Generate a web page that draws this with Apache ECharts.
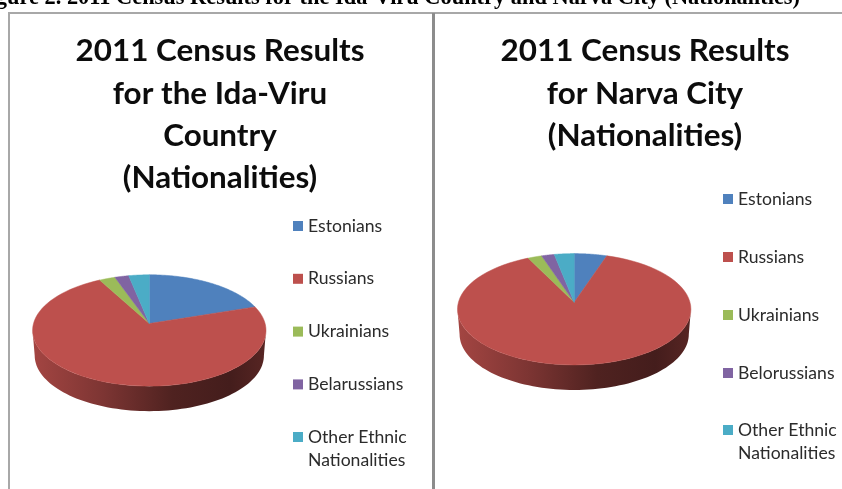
<!DOCTYPE html>
<html><head><meta charset="utf-8">
<style>html,body{margin:0;padding:0;background:#fff;overflow:hidden}#c{width:842px;height:489px}</style>
<script src="https://cdn.jsdelivr.net/npm/echarts@6/dist/echarts.min.js"></script>
</head><body><div id="c"></div>
<script>
const caption = 'Figure 2. 2011 Census Results for the Ida-Viru Country and Narva City (Nationalities)';
const leftTitle = '2011 Census Results\nfor the Ida-Viru\nCountry\n(Nationalities)';
const rightTitle = '2011 Census Results\nfor Narva City\n(Nationalities)';
const leftCategories = ['Estonians','Russians','Ukrainians','Belarussians','Other Ethnic Nationalities'];
const rightCategories = ['Estonians','Russians','Ukrainians','Belorussians','Other Ethnic Nationalities'];
const idaViruValues = [19.9,72.2,2.5,2.2,3.2];
const narvaValues = [5.1,87.6,2.2,2.0,3.1];
const colors = ['#4f81bd','#bd504d','#9bbb59','#8064a2','#4bacc6'];

const PERSP = 0.125, RX = 115.8, RY = 54.8, DEPTH = 25;
function rim(g, deg){
  const t = deg*Math.PI/180, x = Math.sin(t), y = -Math.cos(t), w = 1 - PERSP*y;
  return [g.cx + RX*x/w, g.cy + RY*y/w];
}
function shade(hex, k){
  const n = parseInt(hex.slice(1),16);
  return 'rgb('+[(n>>16)&255,(n>>8)&255,n&255].map(v=>Math.round(v*k)).join(',')+')';
}
function makeRender(g){
  return function(params, api){
    const s = api.value(0)*3.6, e = (api.value(0)+api.value(1))*3.6, color = api.visual('color');
    const pts = [[g.cx,g.cy]];
    for(let i=0;i<=80;i++) pts.push(rim(g, s+(e-s)*i/80));
    const children = [];
    const front = Math.acos(-PERSP)*180/Math.PI;
    const a = Math.max(s,front), b = Math.min(e,360-front);
    if(b>a){
      const top=[],bot=[];
      for(let i=0;i<=80;i++){
        const p = rim(g,a+(b-a)*i/80);
        top.push(p);
        bot.unshift([g.cx+(p[0]-g.cx)*0.982, p[1]+DEPTH]);
      }
      children.push({type:'polygon',shape:{points:top.concat(bot)},style:{
        fill:new echarts.graphic.LinearGradient(g.cx-RX,0,g.cx+RX,0,[
          {offset:0,color:shade(color,0.86)},
          {offset:0.3,color:shade(color,0.66)},
          {offset:0.6,color:shade(color,0.42)},
          {offset:0.85,color:shade(color,0.36)},
          {offset:1,color:shade(color,0.46)}],true)}});
    }
    children.push({type:'polygon',shape:{points:pts},style:{fill:color,stroke:color,lineWidth:0.5}});
    return {type:'group',children};
  };
}
function pieSeries(names, values, g){
  const total = values.reduce((a,b)=>a+b,0);
  let acc = 0;
  return names.map((name,i)=>{
    const start = acc/total*100, pct = values[i]/total*100; acc += values[i];
    return {type:'custom',name,coordinateSystem:'none',silent:true,
      itemStyle:{color:colors[i]},renderItem:makeRender(g),data:[[start,pct]],z:2};
  });
}
function legend(names,left,top,gap){
  return {orient:'vertical',left,top,itemGap:gap,itemWidth:10,itemHeight:10,icon:'rect',selectedMode:false,
    padding:0,
    textStyle:{fontFamily:'Lato',fontSize:17.6,color:'#2b2b2b',lineHeight:23},
    formatter:n=>n.startsWith('Other')?'\n'+n.replace(' Nationalities','\nNationalities'):n,
    data:names};
}
const chart = echarts.init(document.getElementById('c'));
chart.setOption({
  animation:false,
  backgroundColor:'#fff',
  title:[
    {text:leftTitle,left:220,textAlign:'center',top:30,padding:0,textStyle:{fontFamily:'Lato',fontWeight:700,fontSize:31.4,lineHeight:42.3,color:'#0c0c0c'}},
    {text:rightTitle,left:645,textAlign:'center',top:30,padding:0,textStyle:{fontFamily:'Lato',fontWeight:700,fontSize:31.4,lineHeight:42.3,color:'#0c0c0c'}}
  ],
  legend:[legend(leftCategories.slice(0,4),293,214.5,29.8),legend(leftCategories.slice(4),293,402.5,0),
          legend(rightCategories.slice(0,4),723,187.5,35),legend(rightCategories.slice(4),723,395.5,0)],
  series:[...pieSeries(leftCategories,idaViruValues,{cx:149.3,cy:323.5}),
          ...pieSeries(rightCategories,narvaValues,{cx:574.2,cy:302.3})],
  graphic:[
    {type:'rect',shape:{x:8,y:12,width:2,height:477},style:{fill:'#a8a8a8'},silent:true},
    {type:'rect',shape:{x:8,y:12,width:834,height:2},style:{fill:'#a8a8a8'},silent:true},
    {type:'rect',shape:{x:432,y:13,width:3,height:476},style:{fill:'#8c8c8c'},silent:true},
    {type:'text',x:800,y:9,style:{text:caption,align:'right',verticalAlign:'bottom',fontFamily:'Liberation Serif',fontSize:22.4,fontWeight:700,fill:'#000'},silent:true}
  ]
});
</script></body></html>
